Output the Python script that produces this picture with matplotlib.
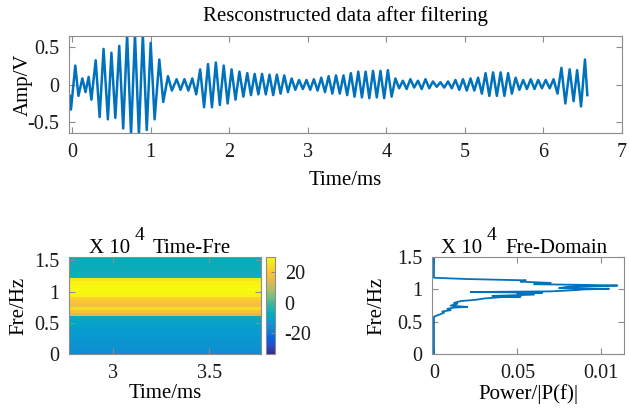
import numpy as np
import matplotlib
matplotlib.use("Agg")
import matplotlib.pyplot as plt
from matplotlib.colors import LinearSegmentedColormap

plt.rcParams['font.family'] = ['Liberation Serif', 'DejaVu Serif']
plt.rcParams['font.size'] = 14.5
plt.rcParams['axes.unicode_minus'] = False

sig_t = [-0.03, -0.015, 0.04, 0.08, 0.13, 0.17, 0.21, 0.245, 0.30, 0.35,
         0.40, 0.455, 0.50, 0.55, 0.60, 0.65, 0.70, 0.75, 0.80, 0.85,
         0.90, 0.95, 1.00, 1.05, 1.11, 1.16, 1.22, 1.27, 1.33, 1.38,
         1.43, 1.48, 1.53, 1.58, 1.63, 1.68, 1.73, 1.78, 1.83, 1.88,
         1.93, 1.98, 2.03, 2.08, 2.13, 2.18, 2.23, 2.277, 2.324, 2.371,
         2.418, 2.466, 2.513, 2.56, 2.607, 2.654, 2.701, 2.748, 2.795, 2.842,
         2.889, 2.937, 2.984, 3.031, 3.078, 3.125, 3.172, 3.219, 3.266, 3.313,
         3.36, 3.408, 3.455, 3.502, 3.549, 3.596, 3.643, 3.69, 3.737, 3.784,
         3.831, 3.879, 3.926, 3.973, 4.02, 4.068, 4.116, 4.164, 4.211, 4.259,
         4.307, 4.355, 4.403, 4.451, 4.499, 4.547, 4.594, 4.642, 4.69, 4.738,
         4.786, 4.834, 4.881, 4.929, 4.977, 5.025, 5.073, 5.121, 5.169, 5.217,
         5.264, 5.312, 5.36, 5.408, 5.456, 5.504, 5.551, 5.599, 5.647, 5.695,
         5.743, 5.791, 5.839, 5.887, 5.934, 5.982, 6.03, 6.08, 6.13, 6.18,
         6.23, 6.28, 6.335, 6.385, 6.43, 6.48, 6.53, 6.56]
sig_v = [-0.15, -0.33, 0.25, -0.15, 0.08, -0.10, 0.10, -0.20, 0.32, -0.43,
         0.47, -0.46, 0.42, -0.44, 0.51, -0.58, 0.66, -0.66, 0.66, -0.66,
         0.66, -0.60, 0.55, -0.46, 0.33, -0.23, 0.11, -0.08, 0.07, -0.07,
         0.07, -0.08, 0.08, -0.13, 0.20, -0.30, 0.27, -0.30, 0.29, -0.27,
         0.25, -0.25, 0.20, -0.20, 0.17, -0.16, 0.15, -0.14, 0.14, -0.13,
         0.14, -0.13, 0.13, -0.14, 0.13, -0.12, 0.12, -0.10, 0.08, -0.07,
         0.06, -0.06, 0.06, -0.07, 0.07, -0.08, 0.09, -0.10, 0.11, -0.12,
         0.12, -0.12, 0.12, -0.14, 0.15, -0.16, 0.17, -0.17, 0.17, -0.18,
         0.18, -0.17, 0.18, -0.18, 0.19, -0.16, 0.08, -0.05, 0.05, -0.06,
         0.07, -0.04, 0.05, -0.06, 0.07, -0.05, 0.04, -0.03, 0.03, -0.04,
         0.04, -0.05, 0.06, -0.07, 0.07, -0.08, 0.08, -0.08, 0.09, -0.12,
         0.15, -0.15, 0.16, -0.15, 0.16, -0.15, 0.15, -0.12, 0.09, -0.07,
         0.06, -0.06, 0.07, -0.06, 0.06, -0.05, 0.06, -0.05, 0.07, -0.12,
         0.22, -0.25, 0.20, -0.22, 0.19, -0.29, 0.33, -0.14]

# time-frequency map: power (dB) per frequency row (x10^4 Hz), same for all times
tf_freq = [0.00, 0.05, 0.10, 0.15, 0.20, 0.25, 0.30, 0.35, 0.40, 0.45, 0.50,
           0.55, 0.60, 0.65, 0.70, 0.75, 0.80, 0.85, 0.90, 0.95, 1.00, 1.05,
           1.10, 1.15, 1.20, 1.25, 1.30, 1.35, 1.40, 1.45, 1.50]
tf_power = [-16, -15.5, -15, -14.5, -14, -13.5, -13, -12.5, -12, -11, -10,
            -8, 14, 18, 24, 17, 19, 22, 28, 29, 30, 29,
            28, 26, -6, -6.5, -7, -7, -7.5, -7.5, -8]
tf_time = [2.77, 3.77]

# spectrum |P(f)| against frequency (x10^4 Hz)
sp_freq = [0.00, 0.58, 0.62, 0.64, 0.66, 0.68, 0.70, 0.72, 0.73, 0.75,
           0.78, 0.79, 0.80, 0.82, 0.84, 0.86, 0.88, 0.89, 0.90, 0.92,
           0.94, 0.95, 0.96, 0.97, 0.99, 1.00, 1.01, 1.02, 1.04, 1.05,
           1.06, 1.07, 1.08, 1.10, 1.12, 1.14, 1.16, 1.18, 1.50]
sp_pow = [0.0, 0.0, 0.004, 0.006, 0.005, 0.010, 0.008, 0.012, 0.020, 0.010,
          0.014, 0.012, 0.013, 0.016, 0.025, 0.030, 0.040, 0.052, 0.035, 0.060,
          0.050, 0.065, 0.022, 0.070, 0.085, 0.090, 0.105, 0.075, 0.080, 0.095,
          0.110, 0.090, 0.060, 0.070, 0.052, 0.055, 0.020, 0.0, 0.0]

parula = LinearSegmentedColormap.from_list('parula', [
    (0.2081, 0.1663, 0.5292), (0.1707, 0.2919, 0.7792), (0.0117, 0.3875, 0.8820),
    (0.0793, 0.5200, 0.8312), (0.0265, 0.6137, 0.8135), (0.0384, 0.6743, 0.7436),
    (0.1801, 0.7177, 0.6424), (0.4420, 0.7481, 0.5033), (0.6834, 0.7435, 0.4044),
    (0.8824, 0.7274, 0.3217), (0.9990, 0.7653, 0.2164), (0.9626, 0.8705, 0.1309),
    (0.9763, 0.9831, 0.0538)])

line_c = '#0072BD'
edge_c = '#8c8c8c'


def style(ax):
    ax.tick_params(direction='in', top=True, right=True, length=4,
                   color=edge_c, labelcolor='#1a1a1a', pad=7)
    for s in ax.spines.values():
        s.set_color(edge_c)
        s.set_linewidth(0.8)


fig = plt.figure(figsize=(6.29, 4.18), dpi=100)

ax1 = fig.add_axes([0.1097, 0.6818, 0.879, 0.232])
ax1.plot(sig_t, sig_v, color=line_c, lw=1.8, solid_joinstyle='round')
ax1.set_xlim(-0.04, 7)
ax1.set_ylim(-0.64, 0.64)
ax1.set_xticks(range(8))
ax1.set_yticks([-0.5, 0, 0.5])
ax1.set_yticklabels(['-0.5', '0', '0.5'])
style(ax1)
ax1.set_title('Resconstructed data after filtering', fontsize=15, pad=11)
ax1.set_xlabel('Time/ms', fontsize=15, labelpad=7)
ax1.set_ylabel('Amp/V', fontsize=15, labelpad=-4)

ax2 = fig.add_axes([0.1097, 0.1524, 0.3052, 0.2328])
img = np.array(tf_power).reshape(-1, 1)
im = ax2.imshow(img, cmap=parula, vmin=-34, vmax=30, aspect='auto',
                origin='lower', interpolation='nearest',
                extent=[tf_time[0], tf_time[1], tf_freq[0], tf_freq[-1] + 0.05])
ax2.set_xlim(tf_time)
ax2.set_ylim(0, 1.55)
ax2.set_xticks([3, 3.5])
ax2.set_xticklabels(['3', '3.5'])
ax2.set_yticks([0, 0.5, 1, 1.5])
ax2.set_yticklabels(['0', '0.5', '1', '1.5'])
style(ax2)
ax2.set_xlabel('Time/ms', fontsize=15, labelpad=1)
ax2.set_ylabel('Fre/Hz', fontsize=15, labelpad=4)

cax = fig.add_axes([0.4229, 0.1524, 0.0143, 0.2328])
cb = fig.colorbar(im, cax=cax, ticks=[-20, 0, 20])
cax.tick_params(direction='in', length=3, color=edge_c, labelcolor='#1a1a1a', pad=7)
cb.outline.set_edgecolor(edge_c)
cb.outline.set_linewidth(0.8)

ax3 = fig.add_axes([0.6873, 0.1524, 0.3048, 0.2328])
ax3.plot(sp_pow, sp_freq, color=line_c, lw=1.3)
ax3.set_xlim(-0.001, 0.114)
ax3.set_ylim(0, 1.5)
ax3.set_xticks([0, 0.05, 0.1])
ax3.set_xticklabels(['0', '0.05', '0.01'])
ax3.set_yticks([0, 0.5, 1, 1.5])
ax3.set_yticklabels(['0', '0.5', '1', '1.5'])
style(ax3)
ax3.set_xlabel('Power/|P(f)|', fontsize=15, labelpad=1)
ax3.set_ylabel('Fre/Hz', fontsize=15, labelpad=8)

# "X 10^4" multipliers above the lower panels
for x0, name in [(89, 'Time-Fre'), (441, 'Fre-Domain')]:
    fig.text(x0 / 629, 1 - 253 / 418, 'X 10', fontsize=15, ha='left', va='baseline')
    fig.text((x0 + 46) / 629, 1 - 240 / 418, '4', fontsize=14, ha='left', va='baseline')
    fig.text((x0 + 64) / 629, 1 - 253 / 418, name, fontsize=15, ha='left', va='baseline')

fig.savefig('out.png', dpi=100)
